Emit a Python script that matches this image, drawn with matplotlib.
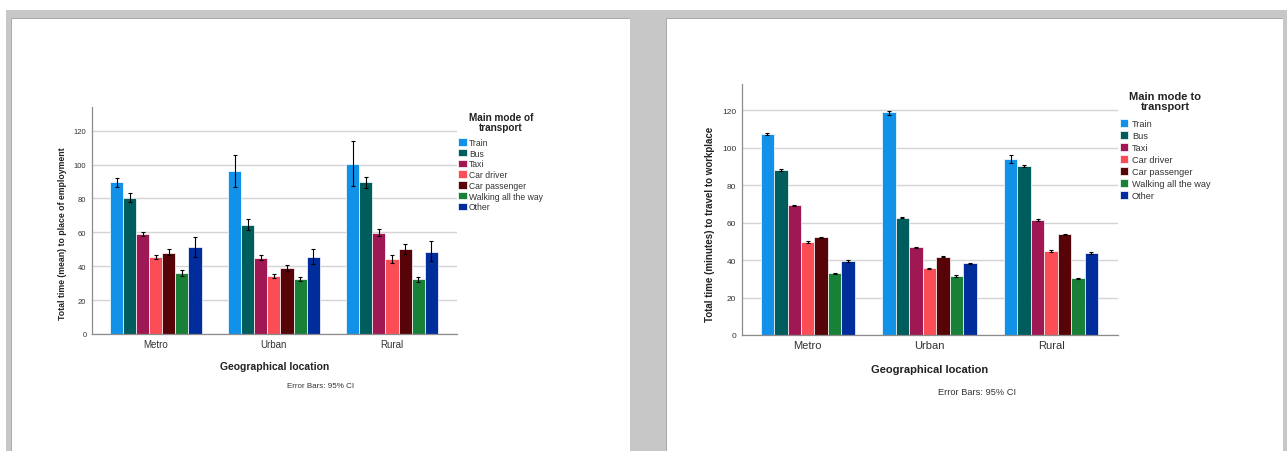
import matplotlib
matplotlib.use("Agg")
import numpy as np
import matplotlib.pyplot as plt
from matplotlib.patches import Rectangle

plt.rcParams['font.family'] = ['Liberation Sans', 'DejaVu Sans']

locations = ['Metro', 'Urban', 'Rural']
modes = ['Train', 'Bus', 'Taxi', 'Car driver', 'Car passenger',
         'Walking all the way', 'Other']
mode_colors = ['#1192e8', '#005d5d', '#9f1853', '#fa4d56', '#570408',
               '#198038', '#002d9c']

# left chart: total time (mean) to place of employment, rows = modes
emp_mean = [[89.6, 96.3, 100.4],
            [80.5, 64.4, 89.6],
            [59.1, 45.0, 59.9],
            [45.4, 34.2, 44.0],
            [48.1, 38.7, 49.9],
            [36.0, 32.4, 32.2],
            [51.3, 45.6, 48.7]]
emp_lo = [[87.0, 86.8, 87.2],
          [77.8, 61.1, 86.4],
          [57.8, 43.6, 58.0],
          [44.2, 33.0, 41.7],
          [46.4, 36.9, 47.2],
          [34.4, 31.2, 30.8],
          [45.4, 41.1, 42.8]]
emp_hi = [[92.3, 105.7, 113.9],
          [83.3, 67.6, 92.9],
          [60.5, 46.6, 61.9],
          [46.6, 35.4, 46.6],
          [50.3, 40.5, 53.0],
          [37.5, 33.6, 33.6],
          [57.4, 50.3, 54.8]]

# right chart: total time (minutes) to travel to workplace
work_mean = [[107.2, 118.8, 93.9],
             [88.2, 62.6, 90.1],
             [69.2, 46.8, 61.3],
             [49.6, 35.6, 44.8],
             [52.1, 41.8, 53.7],
             [32.9, 31.5, 30.2],
             [39.6, 38.2, 43.9]]
work_lo = [[106.8, 117.7, 91.6],
           [87.8, 62.2, 89.7],
           [68.8, 46.4, 60.9],
           [49.2, 35.2, 44.4],
           [51.7, 41.4, 53.3],
           [32.6, 31.2, 29.9],
           [39.2, 37.8, 43.5]]
work_hi = [[107.6, 119.8, 96.2],
           [88.6, 63.0, 90.5],
           [69.6, 47.2, 61.7],
           [50.0, 36.0, 45.2],
           [52.5, 42.2, 54.1],
           [33.2, 31.8, 30.5],
           [40.0, 38.6, 44.3]]

W, H = 1287, 452
fig = plt.figure(figsize=(W / 100, H / 100), dpi=100)
fig.patch.set_facecolor('white')


def box(x0, y0, x1, y1, color):
    fig.add_artist(Rectangle((x0 / W, 1 - y1 / H), (x1 - x0) / W, (y1 - y0) / H,
                             transform=fig.transFigure, facecolor=color,
                             edgecolor='none', zorder=-10))


# grey viewer background and the two white pages
box(6, 11, W, H, '#c6c7c6')
box(11, 19, 630, H, '#a9aaa9')
box(12, 20, 630, H, 'white')
box(666, 19, 1283, H, '#a9aaa9')
box(667, 20, 1283, H, 'white')


def draw(rect, means, lo, hi, ylabel, title, title_xy, leg_xy, fs):
    ax = fig.add_axes(rect)
    x = np.arange(len(locations))
    n = len(modes)
    w = 0.775 / n
    for i in range(n):
        pos = x - 0.775 / 2 + w * (i + 0.5)
        m = np.array(means[i])
        err = [m - np.array(lo[i]), np.array(hi[i]) - m]
        ax.bar(pos, m, w, color=mode_colors[i], edgecolor='white',
               linewidth=0.5, label=modes[i], zorder=2)
        ax.errorbar(pos, m, yerr=err, fmt='none', ecolor='black',
                    elinewidth=0.8, capsize=1.6, capthick=0.8, zorder=3)
    ax.set_xlim(-0.54, 2.55)
    ax.set_ylim(0, 134)
    ax.set_yticks([0, 20, 40, 60, 80, 100, 120])
    ax.yaxis.grid(True, color='#d4d4d4', linewidth=1.0, zorder=0)
    ax.set_axisbelow(True)
    for s in ['top', 'right']:
        ax.spines[s].set_visible(False)
    for s in ['left', 'bottom']:
        ax.spines[s].set_color('#8c8c8c')
        ax.spines[s].set_linewidth(0.9)
    ax.set_xticks(x)
    ax.set_xticklabels(locations, fontsize=fs['cat'], color='#333333')
    ax.tick_params(axis='x', length=0, pad=3.5)
    ax.tick_params(axis='y', length=0, pad=4, labelsize=fs['tick'],
                   labelcolor='#333333')
    ax.set_xlabel('Geographical location', fontsize=fs['xl'],
                  fontweight='bold', color='#222222', va='center')
    ax.xaxis.set_label_coords(0.5, fs['xl_y'])
    ax.set_ylabel(ylabel, fontsize=fs['yl'], fontweight='bold',
                  color='#222222', va='center')
    ax.yaxis.set_label_coords(fs['yl_x'], 0.445)
    ax.text(0.625, fs['eb_y'], 'Error Bars: 95% CI', transform=ax.transAxes,
            ha='center', va='center', fontsize=fs['eb'], color='#333333')
    fig.text(title_xy[0] / W, 1 - title_xy[1] / H, title, ha='center',
             va='center', fontsize=fs['lt'], fontweight='bold',
             color='#222222', linespacing=1.0)
    leg = ax.legend(loc='upper left', bbox_to_anchor=(leg_xy[0] / W, 1 - leg_xy[1] / H),
                    bbox_transform=fig.transFigure, frameon=False,
                    fontsize=fs['leg'], handlelength=fs['hl'],
                    handleheight=fs['hh'], handletextpad=fs['htp'],
                    labelspacing=fs['ls'], borderpad=0, borderaxespad=0)
    for t in leg.get_texts():
        t.set_color('#333333')
    return ax


fs_left = dict(cat=7, tick=5.5, xl=7.5, yl=6.3, eb=5.8, leg=6.2, lt=7.2,
               hl=1.0, hh=0.95, htp=0.25, ls=0.2,
               xl_y=-0.14, yl_x=-0.082, eb_y=-0.225)
fs_right = dict(cat=8, tick=6, xl=8.0, yl=7, eb=6.7, leg=6.55, lt=8.0,
                hl=0.9, hh=0.95, htp=0.4, ls=0.33,
                xl_y=-0.135, yl_x=-0.085, eb_y=-0.227)

draw([92 / W, 1 - 335 / H, 365 / W, 227 / H], emp_mean, emp_lo, emp_hi,
     'Total time (mean) to place of employment', 'Main mode of\ntransport',
     (501, 123), (458, 139), fs_left)
draw([742 / W, 1 - 336 / H, 376 / W, 251 / H], work_mean, work_lo, work_hi,
     'Total time (minutes) to travel to workplace', 'Main mode to\ntransport',
     (1165, 101.5), (1120, 120), fs_right)

fig.savefig('out.png', dpi=100)
